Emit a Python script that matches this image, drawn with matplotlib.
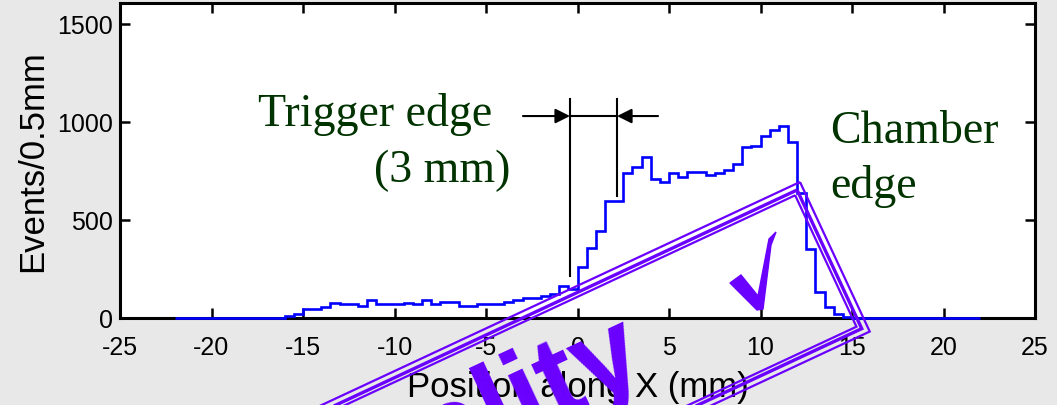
import numpy as np
import matplotlib
matplotlib.use("Agg")
import matplotlib.pyplot as plt
from matplotlib.patches import Polygon
from matplotlib.transforms import IdentityTransform

plt.rcParams['axes.unicode_minus'] = False

# histogram: events per 0.5 mm bin, bins from -22 to 22 mm
BIN_WIDTH = 0.5
X_START = -22.0
counts = [
    0, 0, 0, 0, 0, 0, 0, 0, 0, 0, 0, 0,               # -22 .. -16.5
    10, 22, 44, 44, 58, 78, 73, 73, 61, 90, 73, 73,   # -16 .. -10.5
    73, 78, 73, 90, 73, 80, 80, 61, 61, 73, 73, 73,   # -10 .. -4.5
    82, 92, 100, 100, 114, 123, 163, 150,             # -4 .. -0.5
    262, 355, 444, 596, 596, 738, 770, 818, 706, 694, # 0 .. 4.5
    737, 720, 745, 745, 730, 738, 752, 784, 869, 874, # 5 .. 9.5
    925, 959, 976, 898, 635, 350, 135, 55, 19, 5,     # 10 .. 14.5
    0, 0, 0, 0, 0, 0, 0, 0, 0, 0, 0, 0, 0, 0,         # 15 .. 21.5
]
edges = X_START + BIN_WIDTH * np.arange(len(counts) + 1)

x_ticks = [-25, -20, -15, -10, -5, 0, 5, 10, 15, 20, 25]
y_ticks = [0, 500, 1000, 1500]

# trigger edge markers (mm) and annotation heights (events)
trig_left, trig_right = -0.41, 2.16
arrow_y = 1029
arrow_from_left, arrow_from_right = -2.98, 4.4

W, H = 1057, 406
GREEN = '#003300'
PURPLE = '#6a00ff'

fig = plt.figure(figsize=(W / 100, H / 100), dpi=100, facecolor='#e8e8e8')
ax = fig.add_axes([120 / W, (H - 319) / H, (1035 - 120) / W, (319 - 4) / H])
ax.set_facecolor('white')

ax.stairs(counts, edges, color='blue', lw=1.9, zorder=3, clip_on=False)

ax.set_xlim(-25, 25)
ax.set_ylim(0, 1605)
ax.set_xticks(x_ticks)
ax.set_yticks(y_ticks)
ax.tick_params(direction='in', length=7, width=1.8, top=True, right=True,
               labelsize=18, pad=5, colors='black')
ax.tick_params(axis='x', pad=12)
for s in ax.spines.values():
    s.set_linewidth(2.2)
for lab in ax.get_xticklabels() + ax.get_yticklabels():
    lab.set_family('Liberation Sans')

ax.set_xlabel('Position along X (mm)', fontsize=25, family='Liberation Sans', labelpad=8)
ax.set_ylabel('Events/0.5mm', fontsize=25, family='Liberation Sans', labelpad=6)

# annotations
serif = dict(family='Liberation Serif', fontsize=33, color=GREEN)
ax.text(-17.46, 983, 'Trigger edge', ha='left', va='baseline', **serif)
ax.text(-3.69, 699, '(3 mm)', ha='right', va='baseline', **serif)
ax.text(13.8, 896, 'Chamber', ha='left', va='baseline', **serif)
ax.text(13.8, 614, 'edge', ha='left', va='baseline', **serif)

ax.plot([trig_left, trig_left], [213, 1116], color='black', lw=1.5)
ax.plot([trig_right, trig_right], [621, 1116], color='black', lw=1.5)
ax.plot([trig_left, trig_right], [arrow_y, arrow_y], color='black', lw=1.5)
arrow = dict(arrowstyle='-|>', color='black', lw=1.5, mutation_scale=22,
             shrinkA=0, shrinkB=0)
ax.annotate('', xy=(trig_left, arrow_y), xytext=(arrow_from_left, arrow_y), arrowprops=arrow)
ax.annotate('', xy=(trig_right, arrow_y), xytext=(arrow_from_right, arrow_y), arrowprops=arrow)

# stamp overlay (pixel coords, image origin top-left)
def to_disp(pts):
    pts = np.array(pts, dtype=float)
    pts[:, 1] = H - pts[:, 1]
    return pts

ang = np.deg2rad(25)
u = np.array([np.cos(ang), -np.sin(ang)])
v = np.array([np.sin(ang), np.cos(ang)])
corner = np.array([800.0, 183.0])
for off, lw in [(0, 1.6), (6, 2.4), (10, 1.6)]:
    tr = corner - off * u + off * v
    h = 165 - 2 * off
    L = 900
    pts = [tr, tr + h * v, tr + h * v - L * u, tr - L * u]
    fig.add_artist(Polygon(to_disp(pts), closed=True, fill=False, ec=PURPLE, lw=lw,
                           transform=IdentityTransform(), zorder=10))

fig.text(650, H - 375, 'Quality', transform=IdentityTransform(), rotation=25,
         rotation_mode='anchor', ha='right', va='baseline', fontsize=84,
         fontweight='bold', color=PURPLE, family='Liberation Sans', zorder=11)

# check mark inside the stamp
check = [(730, 284), (741, 276), (758, 297), (769, 240), (776, 233),
         (771, 246), (763, 310), (757, 311)]
fig.add_artist(Polygon(to_disp(check), closed=True, fc=PURPLE, ec=PURPLE, lw=1,
                       transform=IdentityTransform(), zorder=11))

fig.savefig('out.png', dpi=100, facecolor=fig.get_facecolor())
